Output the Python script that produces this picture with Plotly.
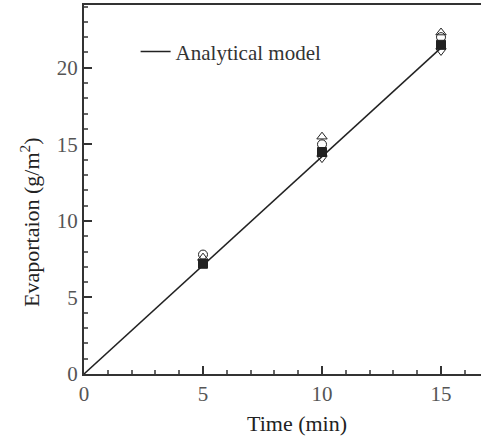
import plotly.graph_objects as go

# Data
model_time = [0, 15]
model_evap = [0, 21.3]

exp_time = [5, 10, 15]
exp_circle = [7.8, 15.0, 22.0]
exp_square = [7.2, 14.5, 21.5]
exp_tri_up = [7.6, 15.5, 22.3]
exp_tri_down = [7.3, 14.1, 21.1]

x_ticks = [0, 5, 10, 15]
y_ticks = [0, 5, 10, 15, 20]

fig = go.Figure()
fig.add_trace(go.Scatter(x=model_time, y=model_evap, mode="lines",
                         line=dict(color="#222", width=1.5),
                         name="Analytical model", showlegend=True))
for ys, sym in [(exp_circle, "circle-open"), (exp_tri_up, "triangle-up-open"),
                (exp_tri_down, "triangle-down-open"), (exp_square, "square")]:
    fig.add_trace(go.Scatter(x=exp_time, y=ys, mode="markers",
                             marker=dict(symbol=sym, size=9, color="#222",
                                         line=dict(color="#222", width=1)),
                             showlegend=False))

font = "Liberation Serif, Times New Roman, serif"
fig.update_layout(
    width=481, height=437,
    margin=dict(l=84, r=0, t=5, b=63),
    paper_bgcolor="white", plot_bgcolor="white",
    font=dict(family=font, size=21, color="#555"),
    showlegend=True,
    legend=dict(x=0.13, y=0.873, xanchor="left", yanchor="middle",
                bgcolor="rgba(0,0,0,0)", font=dict(size=21, color="#333")),
    xaxis=dict(range=[0, 16.68], tickvals=x_ticks, ticks="inside", ticklen=8,
               tickwidth=2, tickcolor="#333", showline=True, linecolor="#333",
               linewidth=2, mirror=True, showgrid=False, zeroline=False,
               minor=dict(dtick=1, ticks="inside", ticklen=4, tickcolor="#666")),
    yaxis=dict(range=[0, 24.1], tickvals=y_ticks, ticks="inside", ticklen=8,
               tickwidth=2, tickcolor="#333", showline=True, linecolor="#333",
               linewidth=2, showgrid=False, zeroline=False,
               minor=dict(dtick=1, ticks="inside", ticklen=4, tickcolor="#666")),
    annotations=[
        dict(text="Time (min)", x=297, y=437 - 423,
             showarrow=False, font=dict(size=22, color="#222")),
        dict(text="Evaportaion (g/m<sup>2</sup>)", x=30, y=437 - 222,
             showarrow=False, textangle=-90, font=dict(size=22, color="#222")),
    ],
)
# convert pixel annotation positions to paper coords
pw, ph = 481 - 84, 437 - 5 - 63
for a in fig.layout.annotations:
    a.xref = "paper"; a.yref = "paper"
    a.xanchor = "center"; a.yanchor = "middle"
    a.x = (a.x - 84) / pw
    a.y = (a.y - 63) / ph
fig.write_html("out.html", config={"displayModeBar": False},
               post_script="document.body.style.margin='0';")
